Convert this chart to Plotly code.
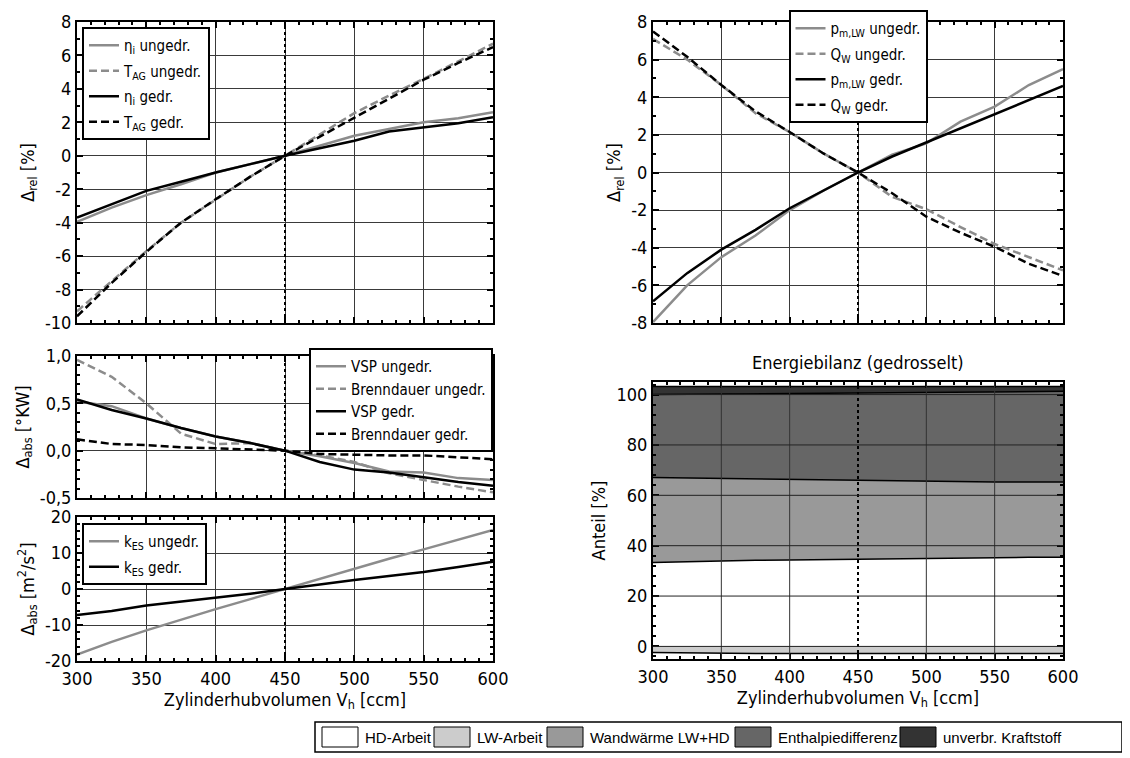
import plotly.graph_objects as go

W, H = 1130, 758
OFF = 8  # the page body adds an 8px margin around the figure

# ---- data ----
vh = [300, 325, 350, 375, 400, 425, 450, 475, 500, 525, 550, 575, 600]

eta_i_ungedr = [-3.95, -3.1, -2.35, -1.7, -1.0, -0.5, 0.0, 0.6, 1.2, 1.6, 2.0, 2.25, 2.6]
t_ag_ungedr = [-9.3, -7.5, -5.7, -4.0, -2.6, -1.25, 0.0, 1.25, 2.55, 3.6, 4.6, 5.65, 6.7]
eta_i_gedr = [-3.7, -2.9, -2.1, -1.55, -1.0, -0.5, 0.0, 0.45, 0.9, 1.45, 1.7, 1.95, 2.3]
t_ag_gedr = [-9.6, -7.6, -5.75, -4.0, -2.6, -1.25, 0.0, 1.15, 2.3, 3.45, 4.55, 5.55, 6.5]

pm_lw_ungedr = [-7.95, -6.0, -4.5, -3.35, -2.0, -0.95, 0.0, 0.95, 1.55, 2.7, 3.5, 4.65, 5.5]
qw_ungedr = [7.1, 6.0, 4.65, 3.15, 2.15, 1.0, 0.0, -1.3, -1.95, -2.9, -3.8, -4.5, -5.2]
pm_lw_gedr = [-6.85, -5.35, -4.1, -3.05, -1.9, -0.95, 0.0, 0.85, 1.6, 2.35, 3.1, 3.85, 4.6]
qw_gedr = [7.5, 6.15, 4.65, 3.25, 2.15, 1.0, 0.0, -1.1, -2.35, -3.2, -3.95, -4.85, -5.5]

vsp_ungedr = [0.52, 0.47, 0.34, 0.24, 0.15, 0.08, 0.0, -0.06, -0.13, -0.22, -0.23, -0.29, -0.31]
brenn_ungedr = [0.96, 0.78, 0.5, 0.18, 0.07, 0.08, 0.0, -0.05, -0.12, -0.24, -0.31, -0.38, -0.44]
vsp_gedr = [0.54, 0.43, 0.34, 0.24, 0.15, 0.08, 0.0, -0.12, -0.2, -0.23, -0.28, -0.33, -0.37]
brenn_gedr = [0.12, 0.07, 0.06, 0.035, 0.025, 0.015, 0.0, -0.035, -0.045, -0.05, -0.05, -0.07, -0.09]

kes_ungedr = [-18.2, -14.7, -11.5, -8.5, -5.6, -2.8, 0.0, 2.8, 5.7, 8.4, 11.0, 13.7, 16.4]
kes_gedr = [-7.2, -6.1, -4.6, -3.5, -2.5, -1.3, 0.0, 1.3, 2.5, 3.6, 4.7, 6.1, 7.6]

# energy balance (gedrosselt), shares in %
hd_arbeit = [33.3, 33.7, 34.1, 34.2, 34.3, 34.45, 34.6, 34.75, 34.9, 35.15, 35.4, 35.4, 35.4]
wandwaerme = [33.8, 33.2, 32.6, 32.3, 32.0, 31.65, 31.3, 31.05, 30.8, 30.35, 29.9, 29.9, 29.9]
enthalpie = [32.9, 33.2, 33.55, 33.9, 34.2, 34.55, 34.9, 35.1, 35.3, 35.6, 35.9, 35.95, 36.0]
unverbr = [3.2, 3.1, 2.95, 2.8, 2.7, 2.55, 2.4, 2.3, 2.2, 2.1, 2.0, 1.95, 1.9]
lw_arbeit = [-2.4, -2.6, -2.7, -2.8, -2.8, -2.8, -2.8, -2.8, -2.8, -2.8, -2.8, -2.8, -2.8]

energy_names = ["HD-Arbeit", "LW-Arbeit", "Wandwärme LW+HD", "Enthalpiedifferenz", "unverbr. Kraftstoff"]
energy_colors = ["#ffffff", "#cccccc", "#999999", "#666666", "#333333"]

x_ticks = [300, 350, 400, 450, 500, 550, 600]
y_ticks_tl = [-10, -8, -6, -4, -2, 0, 2, 4, 6, 8]
y_ticks_tr = [-8, -6, -4, -2, 0, 2, 4, 6, 8]
y_ticks_ml = [-0.5, 0.0, 0.5, 1.0]
y_ticks_bl = [-20, -10, 0, 10, 20]
y_ticks_br = [0, 20, 40, 60, 80, 100]
ref_vh = 450

# ---- styling ----
GRAY = "#8c8c8c"
FONT = "DejaVu Sans Condensed, DejaVu Sans"
LW = 2.5
DASH = "8px,4px"
FS = 18


def px_x(p):
    return (p - OFF) / W


def px_y(p):
    return 1 - (p - OFF) / H


fig = go.Figure()


def add_line(y, name, color, dash, xa, ya, legend):
    fig.add_trace(go.Scatter(
        x=vh, y=y, mode="lines", name=name,
        line=dict(color=color, width=LW, dash=dash),
        xaxis=xa, yaxis=ya, legend=legend, legendgroup=name,
    ))


add_line(eta_i_ungedr, "η<sub>i</sub> ungedr.", GRAY, "solid", "x", "y", "legend")
add_line(t_ag_ungedr, "T<sub>AG</sub> ungedr.", GRAY, DASH, "x", "y", "legend")
add_line(eta_i_gedr, "η<sub>i</sub> gedr.", "black", "solid", "x", "y", "legend")
add_line(t_ag_gedr, "T<sub>AG</sub> gedr.", "black", DASH, "x", "y", "legend")

add_line(pm_lw_ungedr, "p<sub>m,LW</sub> ungedr.", GRAY, "solid", "x2", "y2", "legend2")
add_line(qw_ungedr, "Q<sub>W</sub> ungedr.", GRAY, DASH, "x2", "y2", "legend2")
add_line(pm_lw_gedr, "p<sub>m,LW</sub> gedr.", "black", "solid", "x2", "y2", "legend2")
add_line(qw_gedr, "Q<sub>W</sub> gedr.", "black", DASH, "x2", "y2", "legend2")

add_line(vsp_ungedr, "VSP ungedr.", GRAY, "solid", "x3", "y3", "legend3")
add_line(brenn_ungedr, "Brenndauer ungedr.", GRAY, DASH, "x3", "y3", "legend3")
add_line(vsp_gedr, "VSP gedr.", "black", "solid", "x3", "y3", "legend3")
add_line(brenn_gedr, "Brenndauer gedr.", "black", DASH, "x3", "y3", "legend3")

add_line(kes_ungedr, "k<sub>ES</sub> ungedr.", GRAY, "solid", "x4", "y4", "legend4")
add_line(kes_gedr, "k<sub>ES</sub> gedr.", "black", "solid", "x4", "y4", "legend4")

# energy balance: stacked areas (positive part) + LW-Arbeit below zero
fig.add_trace(go.Scatter(
    x=vh, y=lw_arbeit, mode="lines", name=energy_names[1], fill="tozeroy",
    fillcolor=energy_colors[1], line=dict(color="black", width=1.5),
    xaxis="x5", yaxis="y5", showlegend=False,
))
for vals, idx in [(hd_arbeit, 0), (wandwaerme, 2), (enthalpie, 3), (unverbr, 4)]:
    fig.add_trace(go.Scatter(
        x=vh, y=vals, mode="lines", name=energy_names[idx], stackgroup="pos",
        fillcolor=energy_colors[idx], line=dict(color="black", width=1.5),
        xaxis="x5", yaxis="y5", showlegend=False,
    ))


def xaxis(dom, anchor, labels):
    return dict(
        domain=dom, anchor=anchor, range=[300, 600], automargin=False,
        tickmode="array", tickvals=x_ticks, ticktext=[str(v) for v in x_ticks],
        showticklabels=labels, ticks="inside", ticklen=6, tickwidth=1.5, tickcolor="black",
        minor=dict(dtick=10, tick0=300, ticks="inside", ticklen=3, tickcolor="black", showgrid=False),
        showline=True, linecolor="black", linewidth=2, mirror="ticks",
        showgrid=True, gridcolor="#3a3a3a", gridwidth=1, zeroline=False,
        tickfont=dict(size=FS, color="black"),
        title=dict(text="Zylinderhubvolumen V<sub>h</sub> [ccm]" if labels else "",
                   font=dict(size=FS, color="black"), standoff=0),
    )


def yaxis(dom, anchor, rng, ticks, minor, title, fmt=str):
    return dict(
        domain=dom, anchor=anchor, range=rng, automargin=False,
        tickmode="array", tickvals=ticks, ticktext=[fmt(v) for v in ticks],
        ticks="inside", ticklen=6, tickwidth=1.5, tickcolor="black",
        minor=dict(dtick=minor, tick0=0, ticks="inside", ticklen=3, tickcolor="black", showgrid=False),
        showline=True, linecolor="black", linewidth=2, mirror="ticks",
        showgrid=True, gridcolor="#3a3a3a", gridwidth=1, zeroline=False,
        tickfont=dict(size=FS, color="black"),
        title=dict(text=title, font=dict(size=FS, color="black"), standoff=6),
    )


dx_left = [px_x(77), px_x(493)]
dx_right = [px_x(653), px_x(1063)]

fig.update_layout(
    width=W, height=H,
    margin=dict(l=0, r=0, t=0, b=0, autoexpand=False),
    paper_bgcolor="white", plot_bgcolor="white",
    font=dict(family=FONT, color="black"),
    xaxis=xaxis(dx_left, "y", False),
    yaxis=yaxis([px_y(323), px_y(22)], "x", [-10, 8], y_ticks_tl, 1, "Δ<sub>rel</sub> [%]"),
    xaxis2=xaxis(dx_right, "y2", False),
    yaxis2=yaxis([px_y(323), px_y(22)], "x2", [-8, 8], y_ticks_tr, 1, "Δ<sub>rel</sub> [%]"),
    xaxis3=xaxis(dx_left, "y3", False),
    yaxis3=yaxis([px_y(498), px_y(356)], "x3", [-0.5, 1.0], y_ticks_ml, 0.1, "Δ<sub>abs</sub> [°KW]",
                 fmt=lambda v: f"{v:.1f}".replace(".", ",")),
    xaxis4=xaxis(dx_left, "y4", True),
    yaxis4=yaxis([px_y(661), px_y(517)], "x4", [-20, 20], y_ticks_bl, 2,
                 "Δ<sub>abs</sub> [m<sup>2</sup>/s<sup>2</sup>]"),
    xaxis5=xaxis(dx_right, "y5", True),
    yaxis5=yaxis([px_y(659), px_y(382)], "x5", [-5, 105], y_ticks_br, 4, "Anteil [%]"),
)

legend_style = dict(bgcolor="white", bordercolor="black", borderwidth=2,
                    font=dict(family=FONT, size=15, color="black"),
                    xref="paper", yref="paper", tracegroupgap=3)
fig.update_layout(
    legend=dict(legend_style, x=px_x(82), y=px_y(27), xanchor="left", yanchor="top"),
    legend2=dict(legend_style, x=px_x(858), y=px_y(10), xanchor="center", yanchor="top"),
    legend3=dict(legend_style, x=px_x(493), y=px_y(348), xanchor="right", yanchor="top", tracegroupgap=0),
    legend4=dict(legend_style, x=px_x(82), y=px_y(523), xanchor="left", yanchor="top"),
)

# reference line at 450 ccm in every panel
for xa, ya in [("x", "y"), ("x2", "y2"), ("x3", "y3"), ("x4", "y4"), ("x5", "y5")]:
    fig.add_shape(type="line", xref=xa, yref=f"{ya} domain", x0=ref_vh, x1=ref_vh, y0=0, y1=1,
                  line=dict(color="black", width=2, dash="dot"), layer="above")

# grid of the energy panel must sit above the filled areas
for v in x_ticks[1:-1]:
    if v != ref_vh:
        fig.add_shape(type="line", xref="x5", yref="y5 domain", x0=v, x1=v, y0=0, y1=1,
                      line=dict(color="#333", width=1), layer="above")
for v in y_ticks_br:
    fig.add_shape(type="line", xref="x5 domain", yref="y5", x0=0, x1=1, y0=v, y1=v,
                  line=dict(color="#222", width=1), layer="above")

fig.add_annotation(text="Energiebilanz (gedrosselt)", xref="paper", yref="paper",
                   x=px_x(858), y=px_y(362), xanchor="center", yanchor="middle", showarrow=False,
                   font=dict(family=FONT, size=FS, color="black"))

# energy legend at the bottom (drawn by hand: boxed swatches)
LEG_FONT = "Liberation Sans Narrow, Liberation Sans, Arial"
fig.add_shape(type="rect", xref="paper", yref="paper", x0=px_x(315), x1=px_x(1122),
              y0=px_y(752), y1=px_y(722), line=dict(color="black", width=1.5), fillcolor="white")
swatch_x = [322, 434, 547, 735, 900]
for name, col, sx in zip(energy_names, energy_colors, swatch_x):
    fig.add_shape(type="rect", xref="paper", yref="paper", x0=px_x(sx), x1=px_x(sx + 36),
                  y0=px_y(747), y1=px_y(727), line=dict(color="black", width=1), fillcolor=col)
    fig.add_annotation(text=name, xref="paper", yref="paper", x=px_x(sx + 41), y=px_y(737),
                       xanchor="left", yanchor="middle", showarrow=False,
                       font=dict(family=LEG_FONT, size=15, color="black"))

fig.write_html("out.html")
